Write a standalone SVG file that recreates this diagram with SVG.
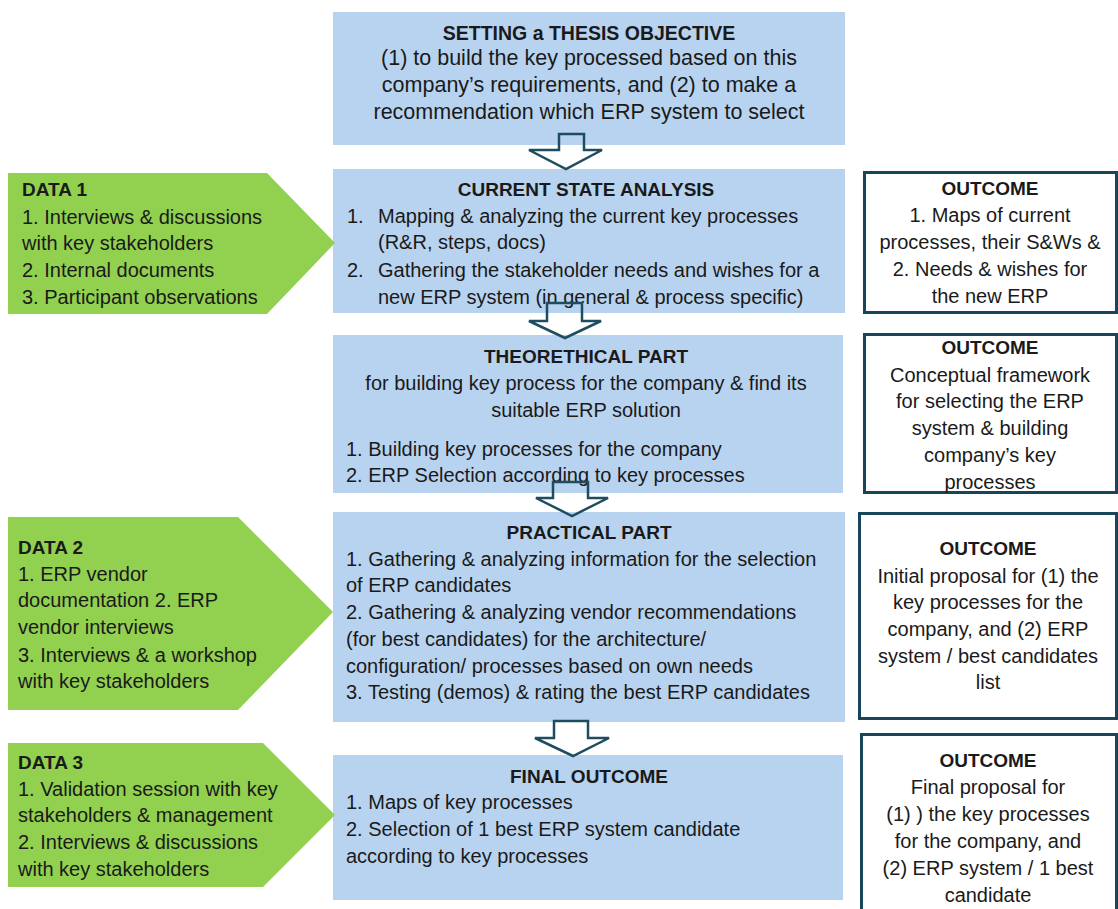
<svg xmlns="http://www.w3.org/2000/svg" width="1118" height="909" viewBox="0 0 1118 909">
  <style>
    text { font-family: "Liberation Sans", Arial, sans-serif; font-size: 20px; fill: #1a1a1a; }
    .b { font-weight: bold; font-size: 19px; }
    .c { text-anchor: middle; }
    .lg { font-size: 21.5px; }
    .step { fill: #b8d3ef; }
    .data { fill: #92d050; }
    .out { fill: #ffffff; stroke: #17465a; stroke-width: 3; }
    .flow { fill: none; stroke: #1d4d5f; stroke-width: 2.5; stroke-linejoin: miter; }
  </style>
  <rect width="1118" height="909" fill="#ffffff"/>

  <!-- process steps -->
  <g id="objective">
    <rect class="step" x="333" y="12" width="512" height="133"/>
    <text class="b c" x="589" y="40" style="font-size:19.5px">SETTING a THESIS OBJECTIVE</text>
    <text class="c lg" x="589" y="65">(1) to build the key processed based on this</text>
    <text class="c lg" x="589" y="92">company’s requirements, and (2) to make a</text>
    <text class="c lg" x="589" y="119">recommendation which ERP system to select</text>
  </g>

  <g id="current-state">
    <rect class="step" x="333" y="169" width="512" height="144"/>
    <text class="b c" x="586" y="196">CURRENT STATE ANALYSIS</text>
    <text x="347" y="223">1.</text>
    <text x="378" y="223">Mapping &amp; analyzing the current key processes</text>
    <text x="378" y="249">(R&amp;R, steps, docs)</text>
    <text x="347" y="277">2.</text>
    <text x="378" y="277">Gathering the stakeholder needs and wishes for a</text>
    <text x="378" y="304">new ERP system (in general &amp; process specific)</text>
  </g>

  <g id="theoretical">
    <rect class="step" x="333" y="335" width="510" height="158"/>
    <text class="b c" x="586" y="363">THEORETHICAL PART</text>
    <text class="c" x="586" y="390">for building key process for the company &amp; find its</text>
    <text class="c" x="586" y="417">suitable ERP solution</text>
    <text x="346" y="456">1. Building key processes for the company</text>
    <text x="346" y="482">2. ERP Selection according to key processes</text>
  </g>

  <g id="practical">
    <rect class="step" x="333" y="512" width="512" height="210"/>
    <text class="b c" x="589" y="539">PRACTICAL PART</text>
    <text x="346" y="566">1. Gathering &amp; analyzing information for the selection</text>
    <text x="346" y="592">of ERP candidates</text>
    <text x="346" y="619">2. Gathering &amp; analyzing vendor recommendations</text>
    <text x="346" y="646">(for best candidates) for the architecture/</text>
    <text x="346" y="673">configuration/ processes based on own needs</text>
    <text x="346" y="699">3. Testing (demos) &amp; rating the best ERP candidates</text>
  </g>

  <g id="final-outcome">
    <rect class="step" x="333" y="755" width="510" height="145"/>
    <text class="b c" x="589" y="783">FINAL OUTCOME</text>
    <text x="346" y="809">1. Maps of key processes</text>
    <text x="346" y="836">2. Selection of 1 best ERP system candidate</text>
    <text x="346" y="863">according to key processes</text>
  </g>

  <!-- data inputs -->
  <g id="data-1">
    <polygon class="data" points="8,173 267,173 335,243 267,314 8,314"/>
    <text class="b" x="22" y="196">DATA 1</text>
    <text x="22" y="224">1. Interviews &amp; discussions</text>
    <text x="22" y="250">with key stakeholders</text>
    <text x="22" y="277">2. Internal documents</text>
    <text x="22" y="304">3. Participant observations</text>
  </g>

  <g id="data-2">
    <polygon class="data" points="8,517 238,517 333,612 238,710 8,710"/>
    <text class="b" x="18" y="554">DATA 2</text>
    <text x="18" y="581">1. ERP vendor</text>
    <text x="18" y="607">documentation 2. ERP</text>
    <text x="18" y="634">vendor interviews</text>
    <text x="18" y="662">3. Interviews &amp; a workshop</text>
    <text x="18" y="688">with key stakeholders</text>
  </g>

  <g id="data-3">
    <polygon class="data" points="8,743 263,743 335,815 263,887 8,887"/>
    <text class="b" x="18" y="769">DATA 3</text>
    <text x="18" y="796">1. Validation session with key</text>
    <text x="18" y="822">stakeholders &amp; management</text>
    <text x="18" y="849">2. Interviews &amp; discussions</text>
    <text x="18" y="876">with key stakeholders</text>
  </g>

  <!-- outcomes -->
  <g id="outcome-1">
    <rect class="out" x="864.5" y="172.5" width="252" height="140"/>
    <text class="b c" x="990" y="195">OUTCOME</text>
    <text class="c" x="990" y="222">1. Maps of current</text>
    <text class="c" x="990" y="249">processes, their S&amp;Ws &amp;</text>
    <text class="c" x="990" y="276">2. Needs &amp; wishes for</text>
    <text class="c" x="990" y="303">the new ERP</text>
  </g>

  <g id="outcome-2">
    <rect class="out" x="864.5" y="334.5" width="252" height="158"/>
    <text class="b c" x="990" y="354">OUTCOME</text>
    <text class="c" x="990" y="382">Conceptual framework</text>
    <text class="c" x="990" y="408">for selecting the ERP</text>
    <text class="c" x="990" y="435">system &amp; building</text>
    <text class="c" x="990" y="462">company’s key</text>
    <text class="c" x="990" y="489">processes</text>
  </g>

  <g id="outcome-3">
    <rect class="out" x="859.5" y="513.5" width="257" height="205"/>
    <text class="b c" x="988" y="555">OUTCOME</text>
    <text class="c" x="988" y="583">Initial proposal for (1) the</text>
    <text class="c" x="988" y="609">key processes for the</text>
    <text class="c" x="988" y="636">company, and (2) ERP</text>
    <text class="c" x="988" y="663">system / best candidates</text>
    <text class="c" x="988" y="689">list</text>
  </g>

  <g id="outcome-4">
    <rect class="out" x="861.5" y="734.5" width="255" height="190"/>
    <text class="b c" x="988" y="767">OUTCOME</text>
    <text class="c" x="988" y="794">Final proposal for</text>
    <text class="c" x="988" y="821">(1) ) the key processes</text>
    <text class="c" x="988" y="848">for the company, and</text>
    <text class="c" x="988" y="875">(2) ERP system / 1 best</text>
    <text class="c" x="988" y="902">candidate</text>
  </g>

  <!-- block arrows between steps -->
  <g id="connectors">
    <path class="flow" d="M559,134 H584 V150 H602 L566,169 L529,150 H559 Z"/>
    <path class="flow" d="M547,303 H582 V321 H601 L565,338 L529,321 H547 Z"/>
    <path class="flow" d="M553,482 H588 V498 H608 L572,516 L536,498 H553 Z"/>
    <path class="flow" d="M554,721 H588 V738 H609 L573,756 L535,738 H554 Z"/>
  </g>
</svg>
